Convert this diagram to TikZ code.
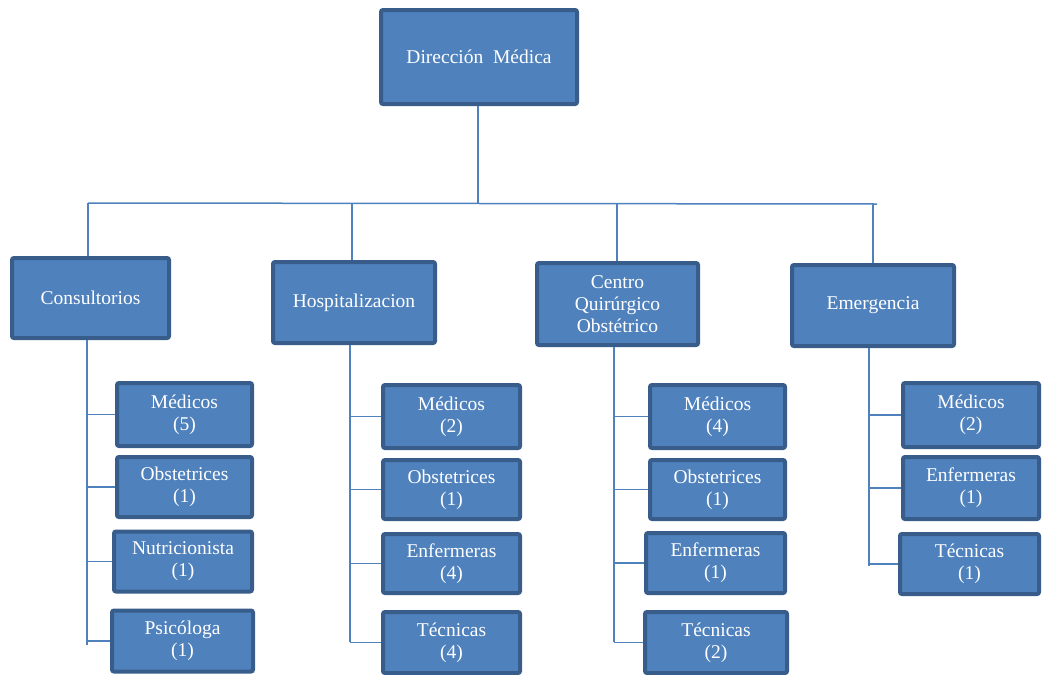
\documentclass[tikz,border=0pt]{standalone}
\usepackage{fontspec}
\setmainfont{Liberation Serif}
\definecolor{boxfill}{HTML}{4F81BD}
\definecolor{boxbord}{HTML}{385D8A}
\definecolor{linec}{HTML}{4F81BD}
\begin{document}
\begin{tikzpicture}[x=1pt,y=-1pt,
  orgbox/.style={draw=boxbord, fill=boxfill, line width=4pt, rounded corners=2pt,
    text=white, align=center, inner sep=0pt,
    font=\fontsize{19.5}{22}\selectfont},
  kidbox/.style={orgbox, minimum width=135pt, minimum height=60pt},
  conn/.style={draw=linec, line width=1.5pt}]
\useasboundingbox (0,0) rectangle (1042,675);
% top
\node[orgbox, minimum width=196pt, minimum height=94pt] (dir) at (479,57) {Dirección\ \ Médica};
% departments
\node[orgbox, minimum width=157pt, minimum height=80pt] (cons) at (90.5,298) {Consultorios};
\node[orgbox, minimum width=162pt, minimum height=81pt] (hosp) at (354,302.5) {Hospitalizacion};
\node[orgbox, minimum width=161pt, minimum height=82pt] (cent) at (617.5,304) {Centro\\Quirúrgico\\Obstétrico};
\node[orgbox, minimum width=162pt, minimum height=81pt] (emer) at (873,305.5) {Emergencia};
% consultorios children
\node[kidbox, minimum height=63pt] (c1) at (184.5,414.5) {Médicos\\(5)};
\node[kidbox, minimum height=60pt] (c2) at (184.5,487) {Obstetrices\\(1)};
\node[kidbox, minimum width=138pt] (c3) at (183,561.5) {Nutricionista\\(1)};
\node[kidbox, minimum width=141pt, minimum height=61pt] (c4) at (182.5,641) {Psicóloga\\(1)};
% hospitalizacion children
\node[kidbox, minimum width=137pt, minimum height=63pt] (h1) at (451.5,416.5) {Médicos\\(2)};
\node[kidbox, minimum width=137pt, minimum height=59pt] (h2) at (451.5,489.5) {Obstetrices\\(1)};
\node[kidbox, minimum width=137pt, minimum height=59pt] (h3) at (451.5,563.5) {Enfermeras\\(4)};
\node[kidbox, minimum width=137pt, minimum height=61pt] (h4) at (451.5,642.5) {Técnicas\\(4)};
% centro children
\node[kidbox, minimum width=135pt, minimum height=63pt] (g1) at (717.5,416.5) {Médicos\\(4)};
\node[kidbox, minimum width=135pt, minimum height=59pt] (g2) at (717.5,489.5) {Obstetrices\\(1)};
\node[kidbox, minimum width=139pt, minimum height=60pt] (g3) at (715.5,563) {Enfermeras\\(1)};
\node[kidbox, minimum width=142pt, minimum height=61pt] (g4) at (716,642.5) {Técnicas\\(2)};
% emergencia children
\node[kidbox, minimum width=136pt, minimum height=64pt] (e1) at (971,415) {Médicos\\(2)};
\node[kidbox, minimum width=136pt, minimum height=62pt] (e2) at (971,488) {Enfermeras\\(1)};
\node[kidbox, minimum width=139pt, minimum height=60pt] (e3) at (969.5,564) {Técnicas\\(1)};
% coordinates of the tree
\coordinate (bl) at (88,203);
\coordinate (br) at (877,204);
\coordinate (tj) at (478,203);
\coordinate (dc) at (88,203);
\coordinate (dh) at (352,203);
\coordinate (dg) at (617,203.5);
\coordinate (de) at (873,204);
\coordinate (vc) at (87,645);
\coordinate (vh) at (350,642);
\coordinate (vg) at (614,642);
\coordinate (ve) at (869,566);
% trunk and bar
\draw[conn] (dir.south -| tj) -- (tj);
\draw[conn] (bl) -- (br);
\draw[conn] (dc) -- (cons.north -| dc);
\draw[conn] (dh) -- (hosp.north -| dh);
\draw[conn] (dg) -- (cent.north -| dg);
\draw[conn] (de) -- (emer.north -| de);
% verticals
\draw[conn] (cons.south -| vc) -- (vc);
\draw[conn] (hosp.south -| vh) -- (vh);
\draw[conn] (cent.south -| vg) -- (vg);
\draw[conn] (emer.south -| ve) -- (ve);
% branches
\foreach \k in {c1,c2,c3,c4} \draw[conn] (\k.west -| vc) -- (\k.west);
\foreach \k in {h1,h2,h3,h4} \draw[conn] (\k.west -| vh) -- (\k.west);
\foreach \k in {g1,g2,g3,g4} \draw[conn] (\k.west -| vg) -- (\k.west);
\foreach \k in {e1,e2,e3} \draw[conn] (\k.west -| ve) -- (\k.west);
\end{tikzpicture}
\end{document}
